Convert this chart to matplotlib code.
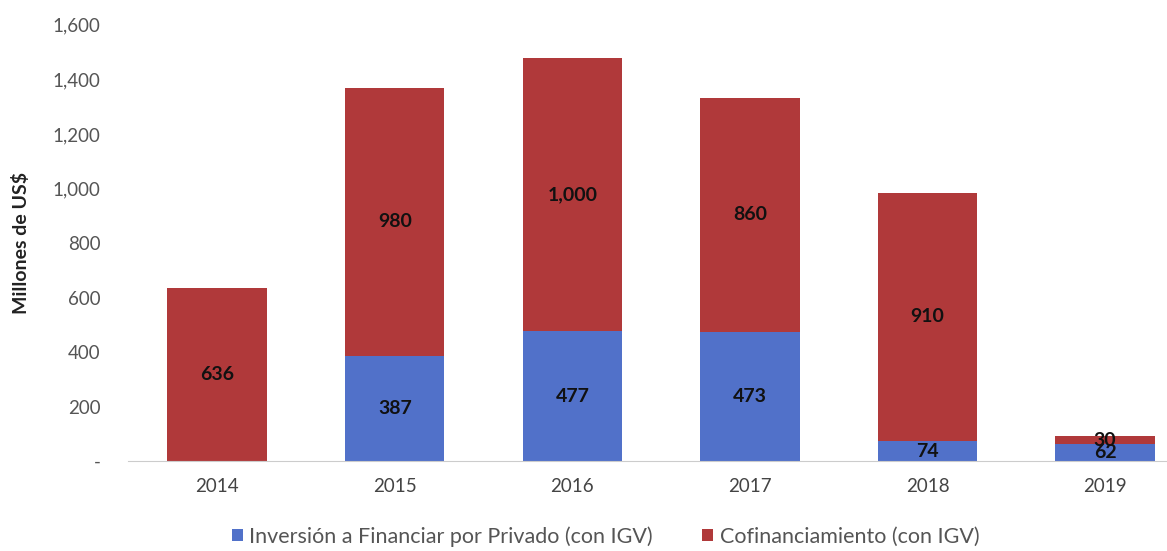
import matplotlib
matplotlib.use('Agg')
import numpy as np
from matplotlib import pyplot as plt

plt.rcParams['font.family'] = ['Lato', 'DejaVu Sans']

# datos del grafico
anios = ['2014', '2015', '2016', '2017', '2018', '2019']
privado = [0, 387, 477, 473, 74, 62]
cofin = [636, 980, 1000, 860, 910, 30]
serie_privado = 'Inversión a Financiar por Privado (con IGV)'
serie_cofin = 'Cofinanciamiento (con IGV)'

azul = '#5171c9'
rojo = '#b0393a'

fig = plt.figure(figsize=(11.67, 5.51), dpi=100)
ax = fig.add_axes([0.11, 0.163, 0.913, 0.792])

x = np.arange(len(anios))
b1 = ax.bar(x, privado, 0.56, color=azul, label=serie_privado)
b2 = ax.bar(x, cofin, 0.56, bottom=privado, color=rojo, label=serie_cofin)

# etiquetas centradas en cada segmento
for i in range(len(anios)):
    if privado[i] > 0:
        ax.text(x[i], privado[i] / 2, '{:,}'.format(privado[i]), ha='center', va='center',
                fontsize=14, fontweight='bold', color='#111111')
    ax.text(x[i], privado[i] + cofin[i] / 2, '{:,}'.format(cofin[i]), ha='center', va='center',
            fontsize=14, fontweight='bold', color='#111111')

ax.set_xlim(-0.5, len(anios) - 0.5)
ax.set_ylim(0, 1600)
ax.set_xticks(x)
ax.set_xticklabels(anios, fontsize=13.5, color='#444444')
yt = np.arange(0, 1601, 200)
ax.set_yticks(yt)
ax.set_yticklabels(['-'] + ['{:,}'.format(v) for v in yt[1:]], fontsize=13.5, color='#555555')
ax.tick_params(axis='both', length=0)
ax.tick_params(axis='x', pad=12)
ax.tick_params(axis='y', pad=20)
ax.set_ylabel('Millones de US$', fontsize=14, fontweight='bold', color='#222222', labelpad=16)

for s in ['top', 'right', 'left']:
    ax.spines[s].set_visible(False)
ax.spines['bottom'].set_color('#cccccc')

fig.legend(handles=[b1, b2], loc='center', bbox_to_anchor=(0.519, 0.026), ncol=2, frameon=False,
           fontsize=15.5, handlelength=0.5, handleheight=0.5, handletextpad=0.3, columnspacing=2.3,
           labelcolor='#555555')

fig.savefig('out.png', dpi=100)
